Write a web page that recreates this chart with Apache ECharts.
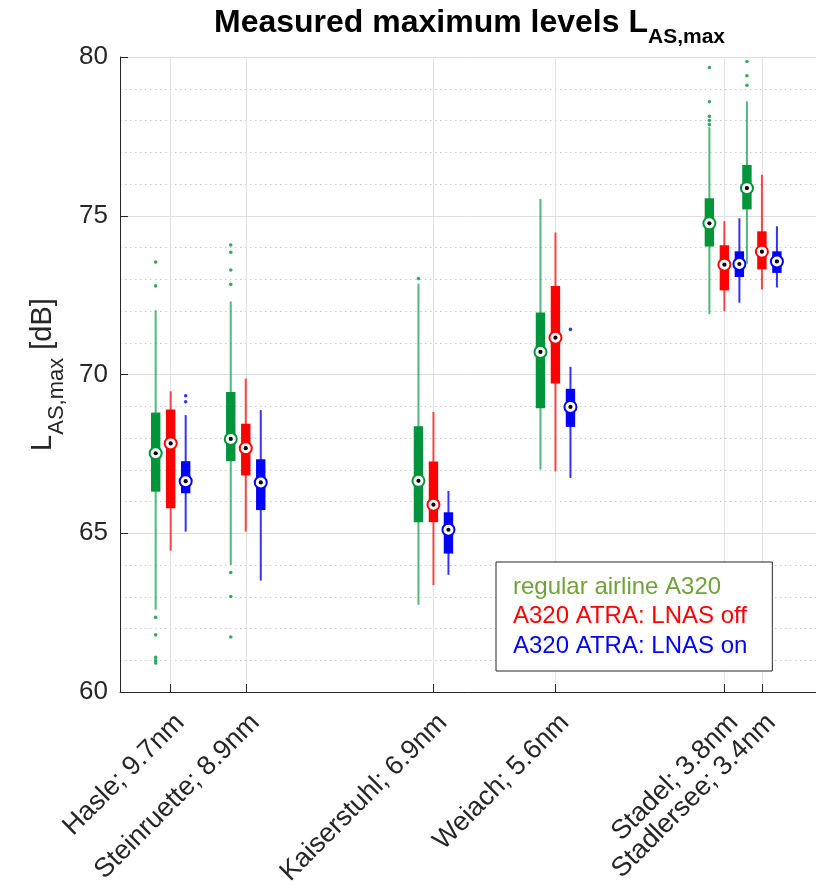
<!DOCTYPE html>
<html>
<head>
<meta charset="utf-8">
<script src="https://cdn.jsdelivr.net/npm/echarts@6/dist/echarts.min.js"></script>
<style>
  html, body { margin: 0; padding: 0; background: #ffffff; }
  #chart { width: 816px; height: 886px; }
</style>
</head>
<body>
<div id="chart"></div>
<script>
// Measurement sites and their distance to the runway threshold (nm)
const sites = ['Hasle', 'Steinruette', 'Kaiserstuhl', 'Weiach', 'Stadel', 'Stadlersee'];
const distNm = [9.7, 8.9, 6.9, 5.6, 3.8, 3.4];
const tickLabels = ['Hasle; 9.7nm', 'Steinruette; 8.9nm', 'Kaiserstuhl; 6.9nm',
                    'Weiach; 5.6nm', 'Stadel; 3.8nm', 'Stadlersee; 3.4nm'];

const seriesNames = ['regular airline A320', 'A320 ATRA: LNAS off', 'A320 ATRA: LNAS on'];

// Box statistics per site: [lower whisker, Q1, median, Q3, upper whisker] in dB
const regularA320 = [
  [62.59, 66.31, 67.52, 68.80, 72.02],
  [64.00, 67.27, 67.97, 69.45, 72.30],
  [62.75, 65.35, 66.65, 68.37, 72.86],
  [67.01, 68.94, 70.71, 71.95, 75.53],
  [71.90, 74.03, 74.76, 75.55, 77.79],
  [73.49, 75.20, 75.87, 76.60, 78.60]
];
const atraLnasOff = [
  [64.45, 65.79, 67.83, 68.90, 69.47],
  [65.05, 66.82, 67.68, 68.45, 69.87],
  [63.37, 65.35, 65.90, 67.26, 68.82],
  [66.95, 69.72, 71.16, 72.79, 74.47],
  [71.99, 72.65, 73.46, 74.07, 74.83],
  [72.68, 73.31, 73.87, 74.51, 76.29]
];
const atraLnasOn = [
  [65.05, 66.26, 66.64, 67.27, 68.72],
  [63.51, 65.73, 66.60, 67.33, 68.88],
  [63.69, 64.36, 65.11, 65.66, 66.33],
  [66.74, 68.35, 68.98, 69.55, 70.24],
  [72.26, 73.07, 73.48, 73.88, 74.92],
  [72.74, 73.20, 73.56, 73.88, 74.67]
];

// Outliers per site (dB)
const outliersRegular = [
  [73.54, 72.79, 62.35, 61.80, 61.09, 60.99, 60.91],
  [74.08, 73.85, 73.29, 72.84, 63.76, 63.01, 61.73],
  [73.02],
  [],
  [79.67, 78.59, 78.13, 78.00, 77.87],
  [79.86, 79.41, 79.11]
];
const outliersLnasOff = [[], [], [], [], [], []];
const outliersLnasOn = [
  [69.33, 69.14],
  [],
  [],
  [71.42],
  [],
  []
];

const FONT = '"Liberation Sans", Arial, Helvetica, sans-serif';
const TXT = '#262626';

// drawing style for each group: horizontal dodge (px), box colour, whisker colour, legend text colour
const groupStyles = [
  { dx: -15, box: '#00953a', whisker: 'rgba(0,149,58,0.68)', text: '#70a23a' },
  { dx: 0,   box: '#ff0000', whisker: 'rgba(255,0,0,0.72)',  text: '#ff0000' },
  { dx: 15,  box: '#0000ff', whisker: 'rgba(0,0,255,0.8)',   text: '#0000ff' }
];
const statsList = [regularA320, atraLnasOff, atraLnasOn];
const outlierList = [outliersRegular, outliersLnasOff, outliersLnasOn];

function boxRenderer(st) {
  return function (params, api) {
    const d = api.value(0);
    const x = api.coord([d, 70])[0] + st.dx;
    const yLo = api.coord([d, api.value(1)])[1];
    const yQ1 = api.coord([d, api.value(2)])[1];
    const yMed = api.coord([d, api.value(3)])[1];
    const yQ3 = api.coord([d, api.value(4)])[1];
    const yHi = api.coord([d, api.value(5)])[1];
    const halfW = 4.7;
    return {
      type: 'group',
      children: [
        { type: 'line', shape: { x1: x, y1: yLo, x2: x, y2: yHi },
          style: { stroke: st.whisker, lineWidth: 2 } },
        { type: 'rect', shape: { x: x - halfW, y: yQ3, width: halfW * 2, height: yQ1 - yQ3 },
          style: { fill: st.box } },
        { type: 'circle', shape: { cx: x, cy: yMed, r: 6 },
          style: { fill: '#ffffff', stroke: st.box, lineWidth: 2 } },
        { type: 'circle', shape: { cx: x, cy: yMed, r: 2.1 },
          style: { fill: '#000000' } }
      ]
    };
  };
}

const series = [];
seriesNames.forEach((name, g) => {
  const st = groupStyles[g];
  series.push({
    name: name,
    type: 'custom',
    renderItem: boxRenderer(st),
    itemStyle: { color: st.box },
    encode: { x: 0, y: [1, 2, 3, 4, 5] },
    data: distNm.map((d, i) => [d].concat(statsList[g][i])),
    z: 3
  });
  const pts = [];
  outlierList[g].forEach((vals, i) => vals.forEach(v => pts.push([distNm[i], v])));
  series.push({
    name: name,
    type: 'scatter',
    symbol: 'circle',
    symbolSize: 3.6,
    symbolOffset: [st.dx, 0],
    itemStyle: { color: st.box },
    data: pts,
    z: 4
  });
});

// Rotated site labels under the x-axis ticks (the two closest sites sit very near each other,
// so they are drawn here to keep both visible)
series.push({
  type: 'custom',
  name: 'siteLabels',
  silent: true,
  clip: false,
  encode: { x: 0 },
  data: distNm.map((d, i) => [d, i]),
  renderItem: function (params, api) {
    const p = api.coord([api.value(0), 60]);
    return {
      type: 'text',
      x: p[0],
      y: p[1] + 17,
      rotation: Math.PI / 4,
      style: {
        text: tickLabels[api.value(1)],
        fontSize: 27,
        fontFamily: FONT,
        fill: TXT,
        align: 'right',
        verticalAlign: 'top'
      }
    };
  },
  z: 5
});

const chart = echarts.init(document.getElementById('chart'), null, { renderer: 'canvas' });
chart.setOption({
  animation: false,
  backgroundColor: '#ffffff',
  textStyle: { fontFamily: FONT },
  title: {
    text: '{a|Measured maximum levels L}{b|AS,max}',
    left: 209,
    top: 2,
    textStyle: {
      rich: {
        a: { fontSize: 32, fontWeight: 'bold', color: '#000', fontFamily: FONT, lineHeight: 41, verticalAlign: 'top' },
        b: { fontSize: 21, fontWeight: 'bold', color: '#000', fontFamily: FONT, lineHeight: 41, verticalAlign: 'bottom' }
      }
    }
  },
  legend: {
    orient: 'vertical',
    left: 496,
    top: 562,
    padding: [12, 25, 12, 12],
    itemGap: 3.5,
    itemWidth: 0,
    itemHeight: 0,
    icon: 'rect',
    selectedMode: false,
    backgroundColor: '#ffffff',
    borderColor: TXT,
    borderWidth: 1,
    borderRadius: 0,
    textStyle: { fontSize: 24, fontFamily: FONT, lineHeight: 26 },
    data: seriesNames.map((n, g) => ({ name: n, textStyle: { color: groupStyles[g].text } }))
  },
  grid: { left: 120, top: 57, right: -21, bottom: 194, containLabel: false, outerBoundsMode: 'none' },
  xAxis: {
    type: 'value',
    inverse: true,
    min: 2.6,
    max: 10.24,
    axisLine: { show: true, onZero: false, lineStyle: { color: TXT, width: 1 } },
    axisTick: { show: true, inside: true, length: 8, customValues: distNm, lineStyle: { color: TXT } },
    axisLabel: { show: false, customValues: distNm },
    splitLine: { show: true, lineStyle: { color: '#e3e3e3', width: 1 } }
  },
  yAxis: {
    type: 'value',
    min: 60,
    max: 80,
    interval: 5,
    axisLine: { show: true, lineStyle: { color: TXT, width: 1 } },
    axisTick: { show: true, inside: true, length: 8, lineStyle: { color: TXT } },
    axisLabel: { fontSize: 26, color: TXT, margin: 12, fontFamily: FONT },
    splitLine: { show: true, lineStyle: { color: '#dedede', width: 1 } },
    minorTick: { show: false, splitNumber: 5 },
    minorSplitLine: { show: true, lineStyle: { color: '#c9c9c9', width: 1, type: [1.5, 3.5] } },
    name: '{l|L}{s|AS,max}{l| [dB]}',
    nameLocation: 'middle',
    nameRotate: 90,
    nameGap: 48,
    nameTextStyle: {
      rich: {
        l: { fontSize: 29, color: TXT, fontFamily: FONT, lineHeight: 40, verticalAlign: 'top' },
        s: { fontSize: 22, color: TXT, fontFamily: FONT, lineHeight: 40, verticalAlign: 'bottom' }
      }
    }
  },
  series: series
});
</script>
</body>
</html>
